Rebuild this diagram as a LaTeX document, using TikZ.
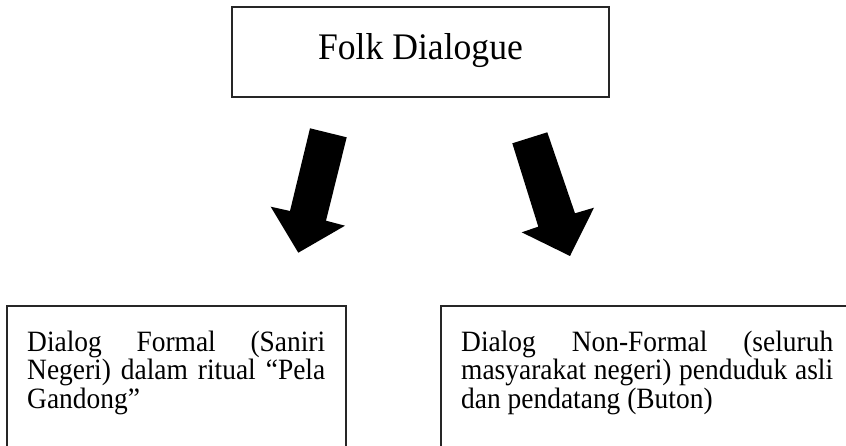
\documentclass[tikz,border=0pt]{standalone}
\usepackage{fontspec}
\setmainfont{Liberation Serif}
\newfontfamily\topfont[FakeStretch=0.95]{Liberation Serif}
\newfontfamily\boxfont[FakeStretch=0.93]{Liberation Serif}
\begin{document}
\begin{tikzpicture}[x=1pt,y=-1pt,
  box/.style={draw=black!85, line width=1.2pt, inner sep=0pt},
  bigarrow/.style={fill=black},
  toptxt/.style={font=\topfont\fontsize{37.5}{40}\selectfont, inner sep=0pt, anchor=base},
  linetxt/.style={font=\boxfont\fontsize{29.5}{30}\selectfont, inner sep=0pt, anchor=base west}]
\useasboundingbox (0,0) rectangle (846,446);
% top box
\node[box, minimum width=377pt, minimum height=90pt] (top) at (420.5,52) {};
\node[toptxt] (toptext) at (420.5,59.5) {Folk Dialogue};
% bottom boxes (cut by the page edge)
\node[box, minimum width=339pt, minimum height=170pt] (left) at (176.5,391) {};
\node[box, minimum width=429pt, minimum height=170pt] (right) at (655.5,391) {};
% left text
\node[linetxt] (l1) at (27,351) {\makebox[298pt][s]{Dialog Formal (Saniri}};
\node[linetxt] (l2) at (27,379.5) {\makebox[298pt][s]{Negeri) dalam ritual “Pela}};
\node[linetxt] (l3) at (27,408) {Gandong”};
% right text
\node[linetxt] (r1) at (461,351) {\makebox[372pt][s]{Dialog Non-Formal (seluruh}};
\node[linetxt] (r2) at (461,379.5) {\makebox[372pt][s]{masyarakat negeri) penduduk asli}};
\node[linetxt] (r3) at (461,408) {dan pendatang (Buton)};
% block arrows
\fill[bigarrow] (310,128.3) -- (346.7,137.3) -- (326,220.7) -- (345,225.7)
  -- (298.3,252.7) -- (270.7,206.7) -- (290,211) -- cycle;
\fill[bigarrow] (512.3,143.3) -- (547.3,132.3) -- (575,213.3) -- (594,207.7)
  -- (570,256) -- (521.7,232.3) -- (538.3,226.7) -- cycle;
\end{tikzpicture}
\end{document}
